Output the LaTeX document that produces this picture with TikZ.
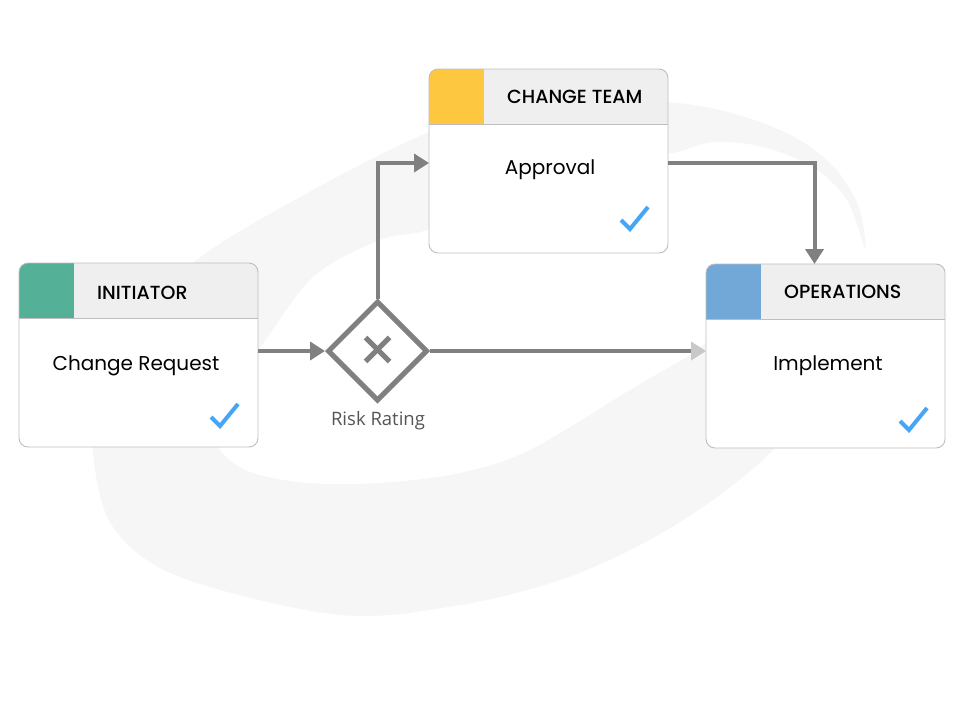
\documentclass[tikz,border=0pt]{standalone}
\usepackage{fontspec}
\setmainfont{Poppins}
\newfontfamily\poptitle{Poppins Medium}
\newfontfamily\opensans{Open Sans}
\usetikzlibrary{shapes.geometric,arrows.meta,calc}
\definecolor{swooshgray}{RGB}{246,246,246}
\definecolor{cardline}{RGB}{190,190,190}
\definecolor{headfill}{RGB}{239,239,239}
\definecolor{flowgray}{RGB}{128,128,128}
\definecolor{flowlight}{RGB}{200,200,200}
\definecolor{checkblue}{RGB}{70,165,245}
\definecolor{teal}{RGB}{85,176,152}
\definecolor{gold}{RGB}{253,200,64}
\definecolor{skyblue}{RGB}{114,168,216}
\definecolor{labelgray}{RGB}{85,85,85}
\tikzset{
  card/.style={draw=cardline, fill=white, line width=0.9pt, rounded corners=9pt,
    minimum width=239pt, minimum height=184pt, inner sep=0pt, outer sep=0pt,
    path picture={
      \fill[headfill, sharp corners] (path picture bounding box.north west) rectangle ([yshift=-55pt]path picture bounding box.north east);
      \fill[#1, sharp corners] (path picture bounding box.north west) rectangle ([xshift=55pt,yshift=-55pt]path picture bounding box.north west);
      \draw[cardline, line width=0.9pt, sharp corners] ([yshift=-55pt]path picture bounding box.north west) -- ([yshift=-55pt]path picture bounding box.north east);
    }},
  cardtitle/.style={inner sep=0pt, anchor=base west, font=\poptitle\fontsize{19}{22}\selectfont, text=black},
  cardbody/.style={inner sep=0pt, anchor=base, font=\fontsize{20}{23}\selectfont, text=black},
  tick/.style={draw=checkblue, line width=4pt, line cap=butt, line join=miter},
  gate/.style={diamond, aspect=1, draw=flowgray, fill=white, line width=5pt, minimum size=100pt, inner sep=0pt},
  xmark/.style={draw=flowgray, line width=5pt},
  flow/.style={draw=flowgray, line width=4pt, -{Triangle[length=15pt,width=18pt]}},
  flowfaint/.style={draw=flowgray, line width=4pt, -{Triangle[length=15pt,width=18pt,color=flowlight]}},
}
\begin{document}
\begin{tikzpicture}[x=1pt,y=-1pt]
\useasboundingbox (0,0) rectangle (960,720);
\fill[white] (0,0) rectangle (960,720);
% background swoosh
\fill[swooshgray] plot[smooth cycle, tension=0.55] coordinates {
 (865,248) (858,205) (830,163) (780,130) (700,106) (600,100) (500,112) (427,133)
 (313,190) (197,260) (140,330) (100,400) (93,453) (113,527) (180,577) (340,615)
 (460,605) (560,580) (640,545) (713,500) (773,450) (805,405) (770,345) (722,335)
 (687,357) (630,390) (530,450) (460,473) (380,483) (307,483) (250,472) (220,450)
 (207,415) (225,385) (258,350) (313,277) (380,240) (427,230) (500,200) (600,165)
 (673,153) (713,142) (763,147) (813,167) (847,200)};

% cards
\node[card=teal] (init) at (138.5,355) {};
\node[card=gold] (appr) at (548.5,161) {};
\node[card=skyblue] (ops) at (825.5,356) {};

\node[cardtitle] (initT) at (97,299) {INITIATOR};
\node[cardtitle] (apprT) at (507,103) {CHANGE TEAM};
\node[cardtitle] (opsT) at (784,298) {OPERATIONS};

\node[cardbody] (initB) at (136,370) {Change Request};
\node[cardbody] (apprB) at (550,174) {Approval};
\node[cardbody] (opsB) at (828,370) {Implement};

\draw[tick] ($(init.south east)+(-47,-30)$) -- ++(9,9) -- ++(18,-22);
\draw[tick] ($(appr.south east)+(-47,-33)$) -- ++(9,9) -- ++(18,-22);
\draw[tick] ($(ops.south east)+(-45,-27)$) -- ++(9,9) -- ++(18,-22);

% gateway
\node[gate] (gw) at (377.5,351) {};
\draw[xmark] ($(gw.center)+(-12,-13.5)$) -- ($(gw.center)+(12,10.5)$);
\draw[xmark] ($(gw.center)+(12,-13.5)$) -- ($(gw.center)+(-12,10.5)$);
\node[inner sep=0pt, anchor=base, font=\opensans\fontsize{18.5}{21}\selectfont, text=labelgray] (gwL) at (378,425) {Risk Rating};

% connectors
\draw[flow] (init.east |- gw.west) -- (gw.west);
\draw[flow] (gw.north) |- ([yshift=-2pt]appr.west);
\draw[flow] ([yshift=-2pt]appr.east) -| ([xshift=-11pt]ops.north);
\draw[flowfaint] (gw.east) -- (gw.east -| ops.west);
\end{tikzpicture}
\end{document}
